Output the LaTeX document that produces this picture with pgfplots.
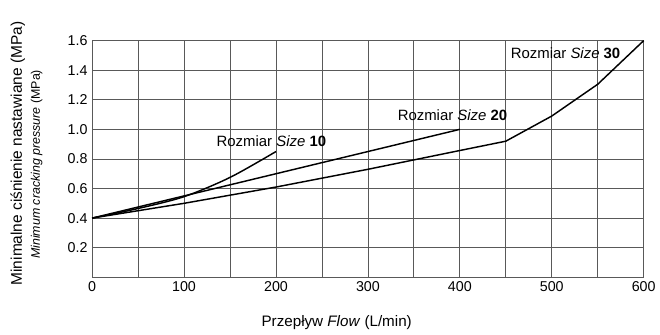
\documentclass[border=0pt]{standalone}
\usepackage{fontspec}
\setmainfont{Liberation Sans}
\usepackage{pgfplots}
\pgfplotsset{compat=1.18}
\begin{document}
\begin{tikzpicture}
\begin{axis}[
  name=ax,
  scale only axis,
  width=417.75pt, height=179.25pt,
  xmin=0, xmax=600, ymin=0, ymax=1.6,
  xtick={0,100,...,600},
  minor xtick={50,150,...,550},
  ytick={0.2,0.4,...,1.6},
  yticklabel style={/pgf/number format/fixed,/pgf/number format/fixed zerofill,/pgf/number format/precision=1},
  /pgf/number format/assume math mode=true,
  ticklabel style={font=\fontsize{10.8}{12}\selectfont},
  grid=both,
  major grid style={draw=black!65, line width=0.6pt},
  minor grid style={draw=black!65, line width=0.6pt},
  axis line style={draw=black!65, line width=0.8pt},
  major tick length=0pt, minor tick length=0pt,
  clip=false,
]
\addplot[black, line width=1.1pt, smooth] coordinates {(0,0.40) (50,0.465) (100,0.545) (150,0.675) (200,0.85)};
\addplot[black, line width=1.1pt] coordinates {(0,0.40) (400,1.00)};
\addplot[black, line width=1.1pt] coordinates {(0,0.40) (100,0.50) (200,0.61) (300,0.73) (400,0.857) (450,0.92) (500,1.09) (550,1.305) (600,1.60)};
\node[font=\fontsize{11.3}{13}\selectfont] at (axis cs:195,0.917) {Rozmiar \textit{Size} \textbf{10}};
\node[font=\fontsize{11.3}{13}\selectfont] at (axis cs:392,1.098) {Rozmiar \textit{Size} \textbf{20}};
\node[font=\fontsize{11.3}{13}\selectfont] at (axis cs:515,1.513) {Rozmiar \textit{Size} \textbf{30}};
\node[rotate=90, font=\fontsize{11.7}{13}\selectfont] at (axis description cs:-0.1346,0.523) {Minimalne ciśnienie nastawiane (MPa)};
\node[rotate=90, font=\fontsize{9.4}{11}\selectfont] at (axis description cs:-0.1005,0.477) {\textit{Minimum cracking pressure} (MPa)};
\node[font=\fontsize{11.5}{13}\selectfont] at (axis description cs:0.4434,-0.1925) {Przepływ \textit{Flow} (L/min)};
\end{axis}
\useasboundingbox ([shift={(-69.75pt,-39.75pt)}]ax.south west) rectangle ([shift={(7.5pt,30.75pt)}]ax.north east);
\end{tikzpicture}
\end{document}
